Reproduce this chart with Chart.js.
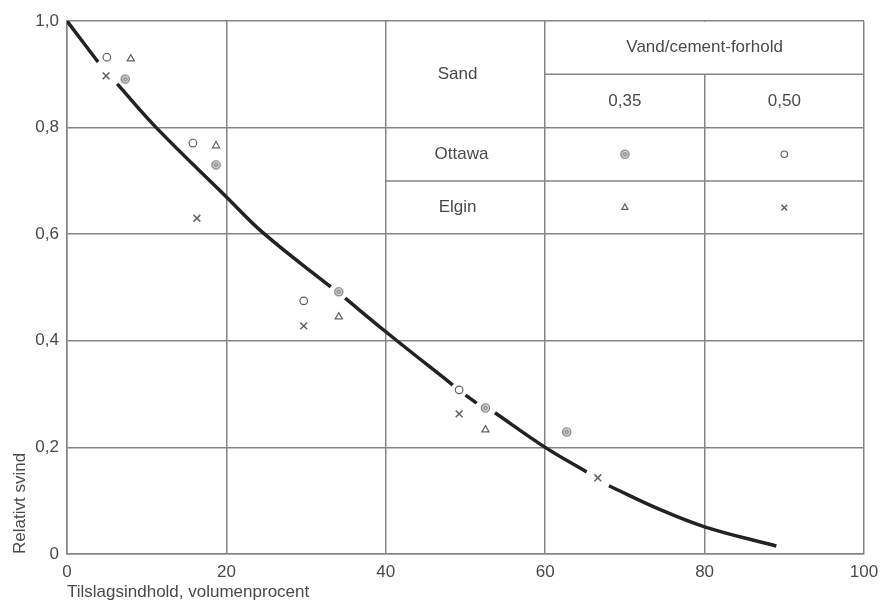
<!DOCTYPE html>
<html>
<head>
<meta charset="utf-8">
<script src="https://cdn.jsdelivr.net/npm/chart.js@4/dist/chart.umd.min.js"></script>
<style>
  html, body { margin: 0; padding: 0; background: #fff; }
  #wrap { width: 882px; height: 604px; }
</style>
</head>
<body>
<div id="wrap"><canvas id="shrinkChart"></canvas></div>
<script>
// akser
const xTicks = [0, 20, 40, 60, 80, 100];
const xTickLabels = ['0', '20', '40', '60', '80', '100'];
const yTicks = [0, 0.2, 0.4, 0.6, 0.8, 1.0];
const yTickLabels = ['0', '0,2', '0,4', '0,6', '0,8', '1,0'];
const xTitle = 'Tilslagsindhold, volumenprocent';
const yTitle = 'Relativt svind';

// tabel / signaturforklaring
const sandHeader = 'Sand';
const ratioHeader = 'Vand/cement-forhold';
const sandTypes = ['Ottawa', 'Elgin'];
const wcRatios = ['0,35', '0,50'];

// måledata
const ottawa35X = [7.3, 18.7, 34.1, 52.5, 62.7];
const ottawa35Y = [0.891, 0.730, 0.492, 0.274, 0.229];
const ottawa50X = [5.0, 15.8, 29.7, 49.2];
const ottawa50Y = [0.932, 0.771, 0.475, 0.308];
const elgin35X = [8.0, 18.7, 34.1, 52.5];
const elgin35Y = [0.929, 0.766, 0.445, 0.233];
const elgin50X = [4.9, 16.3, 29.7, 49.2, 66.6];
const elgin50Y = [0.897, 0.630, 0.428, 0.263, 0.143];

// kurven, null = afbrudt ved et målepunkt
const curveX = [0, 3.9, 5.1, 6.3, 11.2, 20, 24.8, 33.1, 34.0, 34.9, 40, 48.4, 49.2, 50.0, 51.4, 52.5, 53.7, 60, 65.2, 66.6, 68.0, 74.0, 80, 89.0];
const curveY = [1.0, 0.923, null, 0.882, 0.800, 0.670, 0.600, 0.501, null, 0.480, 0.417, 0.317, null, 0.298, 0.283, null, 0.265, 0.200, 0.154, null, 0.128, 0.086, 0.051, 0.015];

const gridColor = '#858585';
const gridWidth = 1.5;
const textColor = '#4a4a4a';
const markColor = '#606060';
const fontFamily = '"Liberation Sans", Arial, sans-serif';

function toPoints(xs, ys) {
    return xs.map((x, i) => ({ x: x, y: ys[i] }));
}

// ⊛ - cirkel med ring indeni
function makeCircledDot() {
    const c = document.createElement('canvas');
    c.width = 11;
    c.height = 11;
    const g = c.getContext('2d');
    g.strokeStyle = markColor;
    g.lineWidth = 1.2;
    g.beginPath();
    g.arc(5.5, 5.5, 4, 0, Math.PI * 2);
    g.stroke();
    g.beginPath();
    g.arc(5.5, 5.5, 1.7, 0, Math.PI * 2);
    g.stroke();
    return c;
}
const circledDot = makeCircledDot();

const markerStyles = {
    ottawa35: { pointStyle: circledDot, radius: 4, borderWidth: 1.2 },
    ottawa50: { pointStyle: 'circle', radius: 3.8, borderWidth: 1.2 },
    elgin35: { pointStyle: 'triangle', radius: 4.2, borderWidth: 1.2 },
    elgin50: { pointStyle: 'crossRot', radius: 4.8, borderWidth: 1.5 }
};

function markerDataset(label, xs, ys, key) {
    const m = markerStyles[key];
    return {
        type: 'scatter',
        label: label,
        data: toPoints(xs, ys),
        pointStyle: m.pointStyle,
        pointRadius: m.radius,
        pointBorderWidth: m.borderWidth,
        pointBorderColor: markColor,
        pointBackgroundColor: '#fff',
        showLine: false
    };
}

const tablePlugin = {
    id: 'sandTable',
    beforeDatasetsDraw(chart) {
        const { ctx, scales: { x, y } } = chart;
        const px = v => x.getPixelForValue(v);
        const py = v => y.getPixelForValue(v);
        ctx.save();

        // sammenlagt hovedcelle: ingen lodret linje ved 80 over 0,9
        ctx.strokeStyle = '#fff';
        ctx.lineWidth = 4;
        ctx.beginPath();
        ctx.moveTo(px(80), py(1.0) + 0.8);
        ctx.lineTo(px(80), py(0.9));
        ctx.stroke();

        ctx.strokeStyle = gridColor;
        ctx.lineWidth = gridWidth;
        ctx.beginPath();
        ctx.moveTo(px(60), py(0.9));
        ctx.lineTo(px(100), py(0.9));
        ctx.moveTo(px(40), py(0.7));
        ctx.lineTo(px(100), py(0.7));
        ctx.stroke();

        ctx.fillStyle = textColor;
        ctx.font = '17px ' + fontFamily;
        ctx.textAlign = 'center';
        ctx.textBaseline = 'middle';
        ctx.fillText(sandHeader, px(49), py(0.9));
        ctx.fillText(ratioHeader, px(80), py(0.95));
        ctx.fillText(wcRatios[0], px(70), py(0.85));
        ctx.fillText(wcRatios[1], px(90), py(0.85));
        ctx.fillText(sandTypes[0], px(49.5), py(0.75));
        ctx.fillText(sandTypes[1], px(49), py(0.65));

        const legendKeys = [['ottawa35', 'ottawa50'], ['elgin35', 'elgin50']];
        const rowY = [0.75, 0.65];
        const colX = [70, 90];
        ctx.strokeStyle = markColor;
        ctx.fillStyle = '#fff';
        legendKeys.forEach((row, r) => {
            row.forEach((key, c) => {
                const m = markerStyles[key];
                ctx.lineWidth = m.borderWidth;
                Chart.helpers.drawPoint(ctx, {
                    pointStyle: m.pointStyle,
                    radius: m.radius * 0.85,
                    rotation: 0,
                    borderWidth: m.borderWidth
                }, px(colX[c]), py(rowY[r]));
            });
        });
        ctx.restore();
    }
};

const ctx = document.getElementById('shrinkChart').getContext('2d');
const shrinkChart = new Chart(ctx, {
    type: 'scatter',
    data: {
        datasets: [
            markerDataset('Ottawa 0,35', ottawa35X, ottawa35Y, 'ottawa35'),
            markerDataset('Ottawa 0,50', ottawa50X, ottawa50Y, 'ottawa50'),
            markerDataset('Elgin 0,35', elgin35X, elgin35Y, 'elgin35'),
            markerDataset('Elgin 0,50', elgin50X, elgin50Y, 'elgin50'),
            {
                type: 'line',
                label: 'Kurve',
                data: toPoints(curveX, curveY),
                borderColor: '#222',
                borderWidth: 3.5,
                borderCapStyle: 'butt',
                pointRadius: 0,
                spanGaps: false,
                tension: 0.4,
                fill: false
            }
        ]
    },
    options: {
        responsive: true,
        maintainAspectRatio: false,
        animation: false,
        layout: { padding: { top: 21, right: 18, bottom: 0, left: 0 } },
        plugins: {
            legend: { display: false },
            tooltip: { enabled: false }
        },
        scales: {
            x: {
                type: 'linear',
                min: 0,
                max: 100,
                afterBuildTicks: scale => { scale.ticks = xTicks.map(v => ({ value: v })); },
                afterFit: scale => {
                    scale.height = 50;
                    scale.paddingRight = 14;
                },
                ticks: {
                    callback: (v, i) => xTickLabels[i],
                    color: textColor,
                    padding: 8,
                    maxRotation: 0,
                    font: { family: fontFamily, size: 17 }
                },
                grid: { color: gridColor, lineWidth: gridWidth, drawTicks: false },
                border: { color: gridColor, width: gridWidth },
                title: {
                    display: true,
                    text: xTitle,
                    align: 'start',
                    color: textColor,
                    padding: { top: 0, bottom: 1 },
                    font: { family: fontFamily, size: 17 }
                }
            },
            y: {
                type: 'linear',
                min: 0,
                max: 1,
                afterBuildTicks: scale => { scale.ticks = yTicks.map(v => ({ value: v })); },
                afterFit: scale => { scale.width = 67; },
                ticks: {
                    callback: (v, i) => yTickLabels[i],
                    color: textColor,
                    padding: 8,
                    font: { family: fontFamily, size: 17 }
                },
                grid: { color: gridColor, lineWidth: gridWidth, drawTicks: false },
                border: { color: gridColor, width: gridWidth },
                title: {
                    display: true,
                    text: yTitle,
                    align: 'start',
                    color: textColor,
                    padding: { top: 10, bottom: 0 },
                    font: { family: fontFamily, size: 17 }
                }
            }
        }
    },
    plugins: [tablePlugin]
});
</script>
</body>
</html>
